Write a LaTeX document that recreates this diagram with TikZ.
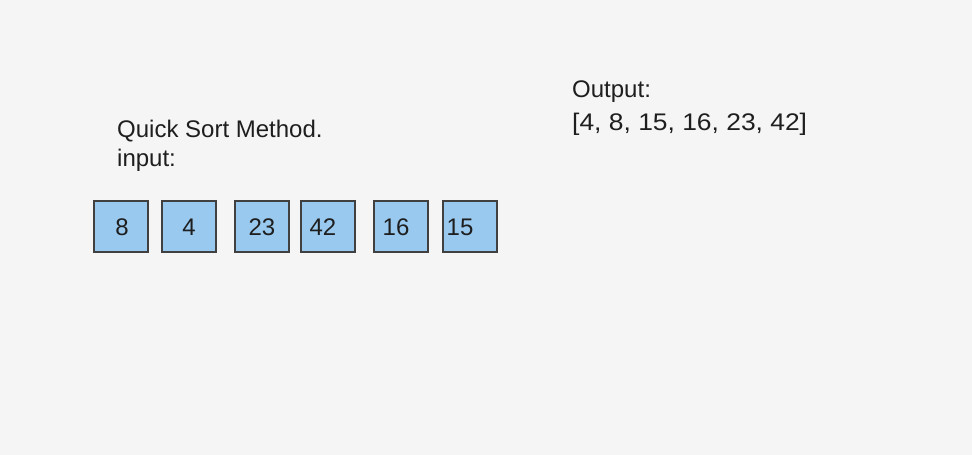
\documentclass[tikz,border=0pt]{standalone}
\usepackage{fontspec}
\setmainfont{Liberation Sans}
\definecolor{bg}{HTML}{F5F5F5}
\definecolor{boxfill}{HTML}{99C9EF}
\definecolor{ink}{HTML}{1E1E1E}
\tikzset{
  cell/.style={draw=ink!85, fill=boxfill, line width=1.7pt, minimum width=54pt, minimum height=51pt, inner sep=0pt, anchor=north west},
  num/.style={text=ink, font=\fontsize{24}{28}\selectfont, inner sep=0pt, anchor=center},
  lbl/.style={text=ink, font=\fontsize{24}{28}\selectfont, inner sep=0pt, anchor=base west}
}
\begin{document}
\begin{tikzpicture}[x=1pt,y=-1pt]
\fill[bg] (0,0) rectangle (972,455);
\useasboundingbox (0,0) rectangle (972,455);
\node[lbl] (title) at (117,137) {Quick Sort Method.};
\node[lbl] (input) at (117,166) {input:};
\node[lbl] (outlbl) at (572,97) {Output:};
\node[lbl, xscale=1.1] (outval) at (572,130) {[4, 8, 15, 16, 23, 42]};
\node[cell] (c1) at (93,200) {};
\node[cell] (c2) at (161,200) {};
\node[cell] (c3) at (234,200) {};
\node[cell] (c4) at (300,200) {};
\node[cell] (c5) at (373,200) {};
\node[cell] (c6) at (442,200) {};
\node[num] (n1) at (122,227) {8};
\node[num] (n2) at (189,227) {4};
\node[num] (n3) at (262,227) {23};
\node[num] (n4) at (323,227) {42};
\node[num] (n5) at (396,227) {16};
\node[num] (n6) at (460,227) {15};
\end{tikzpicture}
\end{document}
